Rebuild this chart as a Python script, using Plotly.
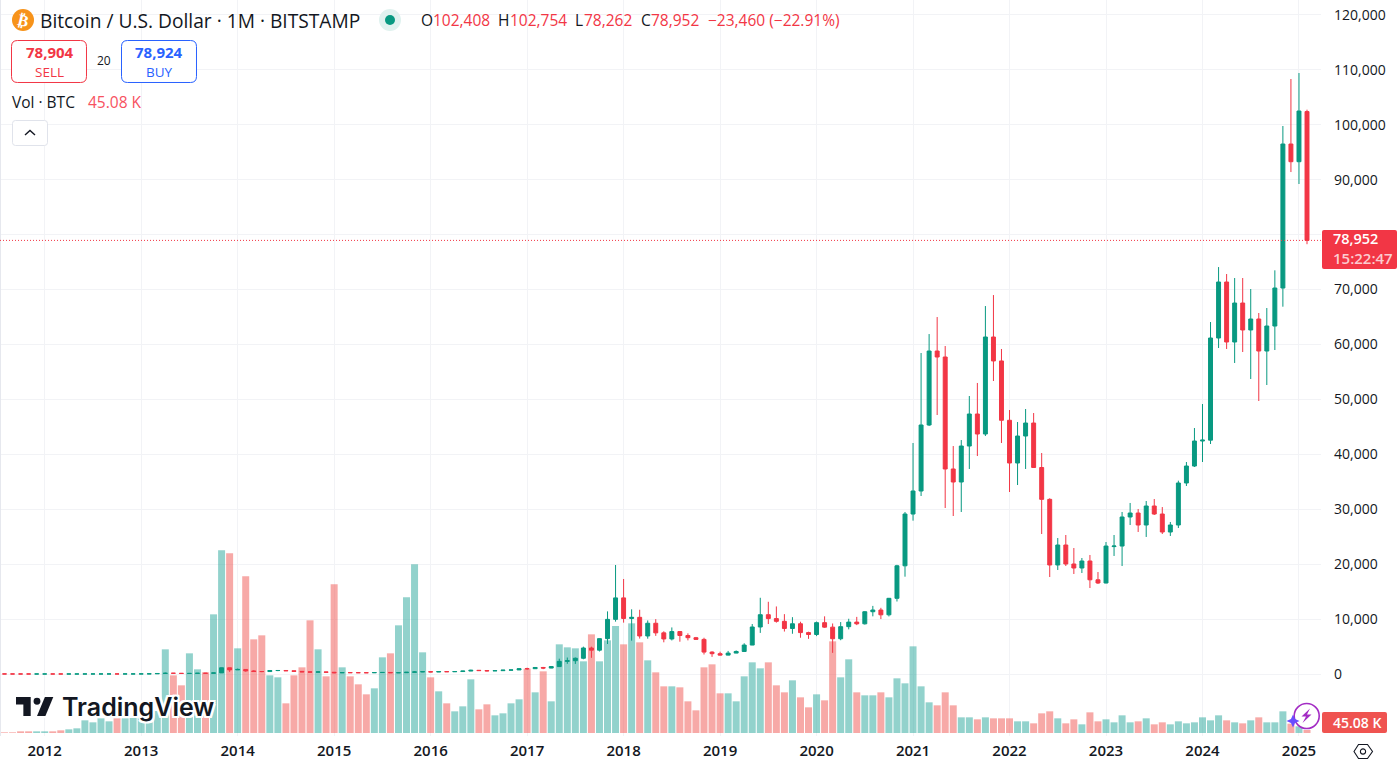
import pandas as pd
import plotly.graph_objects as go

# Monthly BTC/USD candles, August 2011 to February 2025
months = [p.strftime("%Y-%m") for p in pd.period_range("2011-08", "2025-02", freq="M")]

open_ = [
    11, 9, 5, 3.2, 3, 4.5, 5.5, 4.9, 4.8, 5, 5.1, 6.6, 9, 10, 12, 11, 12.5,
    13.5, 20, 33, 93, 139, 129, 97, 106, 140, 125, 204, 1137,
    750, 830, 560, 450, 447, 627, 640, 588, 480, 388, 338, 378,
    320, 226, 254, 244, 236, 230, 264, 284, 230, 236, 315, 377,
    430, 370, 437, 416, 448, 536, 672, 622, 574, 609, 701, 742,
    967, 965, 1190, 1080, 1350, 2300, 2420, 2870, 4735, 4340, 6440, 9950,
    13860, 10110, 10320, 6925, 9240, 7490, 6385, 7730, 7010, 6610, 6300, 3990,
    3700, 3440, 3810, 4100, 5270, 8560, 10800, 10090, 9590, 8290, 9150, 7540,
    7190, 9350, 8530, 6420, 8620, 9450, 9140, 11340, 11650, 10780, 13780, 19700,
    29130, 33320, 45340, 58810, 57720, 37330, 34960, 41510, 47340, 43700, 61360, 57000,
    46200, 38420, 43330, 45700, 37600, 31800, 19850, 23490, 20030, 19300, 20575, 17150,
    16570, 23200, 23300, 28590, 29310, 27130, 30590, 29130, 25855, 27130, 34780, 37870,
    42420, 42580, 61180, 71375, 60450, 67550, 62640, 64640, 58810, 63360, 70280, 96500,
    93280, 102408,
]
high = [
    15, 10, 5.5, 3.3, 4.8, 7, 6.3, 5.5, 5.3, 5.3, 6.8, 9.6, 11, 13.5, 13, 12.8, 13.8,
    20.5, 33, 93, 260, 140, 129, 110, 140, 147, 215, 1163, 1165,
    995, 860, 710, 485, 630, 680, 660, 590, 490, 420, 490, 380,
    320, 280, 300, 265, 245, 265, 315, 285, 245, 335, 500, 470,
    465, 450, 440, 465, 550, 780, 680, 625, 615, 735, 755, 975,
    1150, 1200, 1290, 1360, 2790, 3000, 3000, 4980, 4980, 6470, 11400, 19850,
    17300, 11780, 11700, 9750, 9990, 7780, 8480, 7750, 7400, 6750, 6600, 4140,
    4060, 4200, 4290, 5600, 9100, 13880, 13150, 12300, 10900, 10350, 9520, 7700,
    9550, 10500, 9200, 9460, 10060, 10400, 11430, 12400, 12050, 13850, 19880, 29500,
    42060, 58450, 61900, 65000, 59720, 41510, 42600, 50620, 52990, 67000, 69000, 59180,
    48070, 45880, 48250, 47520, 40240, 32000, 24760, 25310, 22940, 21120, 21670, 18570,
    24030, 25310, 29500, 31140, 30040, 31500, 31860, 30400, 27680, 35200, 38600, 44790,
    49160, 64090, 74100, 72830, 72100, 72100, 70100, 65730, 66640, 73500, 99780, 108340,
    109430, 102754,
]
low = [
    7, 4.5, 2.2, 2.2, 3, 4.2, 4.3, 4.6, 4.7, 4.9, 5, 6.5, 8.8, 7, 10, 10.5, 12.4,
    13.4, 19, 32, 50, 84, 67, 65, 103, 90, 124, 200, 380,
    730, 420, 440, 340, 420, 525, 566, 440, 350, 275, 320, 310,
    150, 210, 235, 215, 225, 220, 253, 195, 225, 236, 310, 345,
    350, 360, 395, 415, 440, 525, 610, 470, 570, 603, 690, 740,
    750, 930, 880, 1060, 1330, 1850, 1830, 2680, 2950, 4100, 5460, 9530,
    9350, 6070, 6450, 6430, 6940, 5770, 6110, 5880, 6120, 6260, 3550, 3120,
    3350, 3390, 3780, 4090, 5260, 7480, 9100, 9350, 7730, 7330, 6600, 6400,
    6900, 8400, 3850, 6150, 8130, 8900, 9000, 10500, 10000, 10480, 13200, 17720,
    27920, 32410, 45150, 47160, 30225, 28770, 29500, 37330, 39690, 43330, 53350, 42060,
    33140, 34410, 37330, 37510, 25490, 17660, 18940, 19660, 18210, 18390, 15660, 16390,
    16500, 21490, 19660, 27130, 25860, 24950, 28950, 25490, 25130, 26580, 34230, 37690,
    38600, 41880, 59360, 59180, 56630, 58630, 53710, 49710, 52620, 58990, 66880, 91400,
    89220, 78262,
]
close = [
    9, 5, 3.2, 3, 4.5, 5.5, 4.9, 4.8, 5, 5.1, 6.6, 9, 10, 12, 11, 12.5, 13.5,
    20, 33, 93, 139, 129, 97, 106, 140, 125, 204, 1137, 750,
    830, 560, 450, 447, 627, 640, 588, 480, 388, 338, 378, 320,
    226, 254, 244, 236, 230, 264, 284, 230, 236, 315, 377, 430,
    370, 437, 416, 448, 536, 672, 622, 574, 609, 701, 742, 967,
    965, 1190, 1080, 1350, 2300, 2420, 2870, 4735, 4340, 6440, 9950, 13860,
    10110, 10320, 6925, 9240, 7490, 6385, 7730, 7010, 6610, 6300, 3990, 3700,
    3440, 3810, 4100, 5270, 8560, 10800, 10090, 9590, 8290, 9150, 7540, 7190,
    9350, 8530, 6420, 8620, 9450, 9140, 11340, 11650, 10780, 13780, 19700, 29130,
    33320, 45340, 58810, 57720, 37330, 34960, 41510, 47340, 43700, 61360, 57000, 46200,
    38420, 43330, 45700, 37600, 31800, 19850, 23490, 20030, 19300, 20575, 17150, 16570,
    23300, 23300, 28590, 29310, 27130, 30590, 29130, 25855, 27130, 34780, 37870, 42420,
    42580, 61180, 71375, 60450, 67550, 62640, 64640, 58810, 63360, 70280, 96500, 93280,
    102510, 78952,
]
# Traded volume, thousands of BTC
volume = [
    10, 10, 25, 25, 25, 25, 25, 40, 55, 70, 190, 160, 220, 175, 220, 220, 225,
    240, 270, 330, 1255, 865, 715, 1195, 955, 910, 1780, 2740, 2695,
    1270, 2350, 1405, 1465, 865, 835, 445, 865, 985, 1690, 1255, 850,
    2230, 985, 850, 730, 580, 670, 1135, 1195, 1615, 2035, 2530, 1210,
    835, 625, 445, 325, 400, 805, 355, 430, 265, 295, 445, 505,
    965, 610, 925, 475, 1330, 1285, 1270, 1075, 1480, 1075, 1390, 1605,
    1330, 1645, 1360, 1090, 910, 700, 700, 685, 475, 340, 985, 1030,
    595, 595, 475, 850, 1060, 970, 1060, 715, 610, 790, 535, 385,
    580, 490, 1375, 835, 1105, 610, 565, 565, 610, 535, 820, 745,
    1300, 700, 460, 415, 610, 415, 235, 235, 205, 235, 220, 220,
    220, 175, 175, 145, 295, 325, 220, 145, 205, 130, 310, 175,
    205, 160, 265, 160, 175, 220, 130, 160, 130, 175, 145, 160,
    235, 190, 265, 190, 160, 145, 190, 235, 160, 160, 325, 140,
    100, 45.08,
]
year_ticks = [f"{y}-01" for y in range(2012, 2026)]
year_labels = [str(y) for y in range(2012, 2026)]
price_ticks = list(range(0, 120001, 10000))
last_close = close[-1]

WIDTH, HEIGHT = 1397, 766
PLOT_W, PLOT_H = 1321, 736
UI_FONT = "Open Sans"
INK = "#131722"
UP, DOWN = "#089981", "#F23645"
VOL_UP, VOL_DOWN = "rgba(38,166,154,0.5)", "rgba(239,83,80,0.5)"
GRID = "#f2f3f6"


def px(x):
    return x / PLOT_W


def py(y):
    return 1 - y / PLOT_H


def label(x, y, text, size=15, color=INK, anchor="left", weight=None, **kw):
    font = dict(family=UI_FONT, size=size, color=color)
    if weight:
        font["weight"] = weight
    return dict(x=px(x), y=py(y), xref="paper", yref="paper", text=text, showarrow=False,
                xanchor=anchor, yanchor="middle", font=font, borderpad=0, borderwidth=0, **kw)


def dot(cx, cy, r, **style):
    return dict(type="circle", xref="paper", yref="paper", x0=px(cx - r), x1=px(cx + r),
                y0=py(cy - r), y1=py(cy + r), **style)


def path(points, fill=None, line=None, width=0, close_path=True):
    d = "M " + " L ".join(f"{px(a):.5f} {py(b):.5f}" for a, b in points)
    if close_path:
        d += " Z"
    return dict(type="path", xref="paper", yref="paper", path=d,
                fillcolor=fill or "rgba(0,0,0,0)",
                line=dict(color=line or "rgba(0,0,0,0)", width=width))


def rounded(x0, y0, x1, y1, r, fill=None, line=None, width=1):
    def p(a, b):
        return f"{px(a):.5f} {py(b):.5f}"
    d = (f"M {p(x0 + r, y0)} L {p(x1 - r, y0)} Q {p(x1, y0)} {p(x1, y0 + r)} "
         f"L {p(x1, y1 - r)} Q {p(x1, y1)} {p(x1 - r, y1)} "
         f"L {p(x0 + r, y1)} Q {p(x0, y1)} {p(x0, y1 - r)} "
         f"L {p(x0, y0 + r)} Q {p(x0, y0)} {p(x0 + r, y0)} Z")
    return dict(type="path", xref="paper", yref="paper", path=d, fillcolor=fill or "rgba(0,0,0,0)",
                line=dict(color=line or "rgba(0,0,0,0)", width=width if line else 0))


bar_colors = [VOL_UP if c >= o else VOL_DOWN for o, c in zip(open_, close)]

fig = go.Figure()
fig.add_trace(go.Bar(x=months, y=volume, yaxis="y", width=0.87,
                     marker=dict(color=bar_colors, line=dict(width=0)), hoverinfo="skip"))
fig.add_trace(go.Candlestick(x=months, open=open_, high=high, low=low, close=close, yaxis="y2",
                             increasing=dict(line=dict(color=UP, width=1), fillcolor=UP),
                             decreasing=dict(line=dict(color=DOWN, width=1), fillcolor=DOWN),
                             whiskerwidth=0, hoverinfo="skip"))

# Logo mark with a white halo below it
logo_bar = [(16, 697), (30.7, 697), (30.7, 716), (23.35, 716), (23.35, 704.4), (16, 704.4)]
logo_slash = [(37, 716), (45.4, 716), (53.3, 697), (44.9, 697)]
shapes = [
    dict(type="line", xref="paper", yref="paper", x0=px(0.5), x1=px(0.5), y0=py(0), y1=py(PLOT_H),
         line=dict(color="#e6e8ee", width=1)),
    dict(type="line", xref="paper", yref="y2", x0=0, x1=1, y0=last_close, y1=last_close,
         line=dict(color=DOWN, width=1, dash="1px,2px")),
    path(logo_bar, fill="#fff", line="#fff", width=4),
    path(logo_slash, fill="#fff", line="#fff", width=4),
    dot(37, 701.2, 4.2, fillcolor="#131722", line=dict(color="#fff", width=1.5)),
    path(logo_bar, fill="#131722"),
    path(logo_slash, fill="#131722"),
    # Symbol icon and market status dot
    dot(23, 20, 11, fillcolor="#F7931A", line=dict(width=0)),
    dot(390, 20, 11, fillcolor="#e0f2ef", line=dict(width=0)),
    dot(390, 20, 5, fillcolor=UP, line=dict(width=0)),
    # Order buttons and the collapse toggle
    rounded(11.5, 40.5, 86.5, 82.5, 6, fill="#fff", line=DOWN),
    rounded(121.5, 40.5, 196.5, 82.5, 6, fill="#fff", line="#2962FF"),
    rounded(12.5, 120.5, 47.5, 145.5, 3, fill="#fff", line="#e0e3eb"),
    path([(25, 135), (30, 130.5), (35, 135)], line=INK, width=1.4, close_path=False),
    # Last price and volume tags
    rounded(1322, 230, 1397, 269, 2, fill=DOWN),
    rounded(1322, 712, 1387, 733, 2, fill="#EF5350"),
    # Lightning badge over the newest bars
    dot(1306.7, 716, 12.5, fillcolor="rgba(255,255,255,0.85)", line=dict(color="#A32CC4", width=1.6)),
    path([(1310, 708.5), (1301.5, 716.5), (1306, 716.5), (1302.5, 723), (1311.5, 714.5), (1307, 714.5)],
         fill="#A32CC4"),
    path([(1293, 714.5), (1295, 719), (1299.5, 721), (1295, 723), (1293, 727.5),
          (1291, 723), (1286.5, 721), (1291, 719)], fill="#6A4CFF"),
    # Settings hexagon in the axis corner
    path([(1354, 751.5), (1358.5, 744.5), (1367.5, 744.5), (1372.5, 751.5), (1367.5, 758.5), (1358.5, 758.5)],
         line=INK, width=1.1),
    dot(1363, 751.5, 2.6, fillcolor="rgba(0,0,0,0)", line=dict(color=INK, width=1.1)),
]

halo = ",".join(f"{a}px {b}px 0 #fff" for a in (-2, 0, 2) for b in (-2, 0, 2))
annotations = [
    label(23, 20, "₿", size=16, color="#fff", anchor="center", textangle=14, weight=700),
    label(40, 20, "Bitcoin / U.S. Dollar · 1M · BITSTAMP", size=19.2),
    label(421, 20, "O", size=15.5), label(433, 20, f"{open_[-1]:,}", size=15.5, color=DOWN),
    label(498, 20, "H", size=15.5), label(510, 20, f"{high[-1]:,}", size=15.5, color=DOWN),
    label(575, 20, "L", size=15.5), label(584, 20, f"{low[-1]:,}", size=15.5, color=DOWN),
    label(641, 20, "C", size=15.5), label(651, 20, f"{last_close:,}", size=15.5, color=DOWN),
    label(708, 20, "−23,460 (−22.91%)", size=15.5, color=DOWN),
    label(50, 52, "78,904", size=15, color=DOWN, anchor="center", weight=700),
    label(49, 72, "SELL", size=13.5, color=DOWN, anchor="center"),
    label(104, 61, "20", size=12, anchor="center"),
    label(159, 52, "78,924", size=15, color="#2962FF", anchor="center", weight=700),
    label(159, 72, "BUY", size=13.5, color="#2962FF", anchor="center"),
    label(12, 102, "Vol · BTC", size=15.5),
    label(88, 102, "45.08 K", size=15.5, color="#F7525F"),
    label(1333, 239, f"{last_close:,}", size=14.5, color="#fff", weight=600),
    label(1333, 258, "15:22:47", size=15, color="rgba(255,255,255,0.75)", weight=600),
    label(1357, 722.5, "45.08 K", size=14, color="#fff", anchor="center", weight=600),
]
logo_text = label(62, 707, "TradingView", size=25, color="#131722", weight=600)
logo_text["font"]["family"] = "Inter"
logo_text["font"]["shadow"] = halo
annotations.append(logo_text)

fig.update_layout(
    width=WIDTH, height=HEIGHT, showlegend=False, paper_bgcolor="#fff", plot_bgcolor="#fff",
    margin=dict(l=0, r=WIDTH - PLOT_W, t=0, b=HEIGHT - PLOT_H, pad=0),
    font=dict(family=UI_FONT, color=INK), boxgap=0.3,
    xaxis=dict(type="category", categoryorder="array", categoryarray=months, range=[-0.56, 163.74],
               tickvals=year_ticks, ticktext=year_labels, showgrid=True, gridcolor=GRID, gridwidth=1,
               ticks="", showline=False, zeroline=False, rangeslider=dict(visible=False),
               tickfont=dict(size=15, family=UI_FONT, color=INK, weight=600), ticklabelstandoff=4,
               tickangle=0),
    yaxis=dict(range=[-45, 10995], visible=False, fixedrange=True),
    yaxis2=dict(overlaying="y", side="right", range=[-11289, 122725], tickvals=price_ticks,
                tickformat=",d", showgrid=True, gridcolor=GRID, gridwidth=1, zeroline=False,
                ticks="", showline=False, tickfont=dict(size=14, family=UI_FONT, color=INK),
                ticklabelstandoff=12),
    shapes=shapes, annotations=annotations,
)
fig.write_html("out.html", config=dict(displayModeBar=False))
